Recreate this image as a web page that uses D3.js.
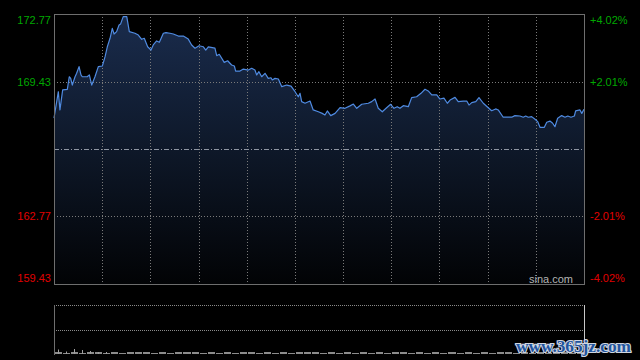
<!DOCTYPE html>
<html lang="zh">
  <head>
    <meta charset="utf-8">
    <title>sina intraday</title>
    <style>
      html, body { margin: 0; padding: 0; background: #000; }
      svg { display: block; }
      text { font-family: "Liberation Sans", Arial, sans-serif; }
    </style>
  </head>
  <body>
    <svg class="chart"></svg>
    <script src="https://d3js.org/d3.v7.min.js"></script>
    <script>
      // HK session: 9:30-12:00, 13:00-16:00 -> 330 trading minutes
      const prevClose = 166.10;
      const priceRange = [159.43, 172.77];
      const leftLabels = ["172.77", "169.43", "162.77", "159.43"];
      const leftValues = [172.77, 169.43, 162.77, 159.43];
      const rightLabels = ["+4.02%", "+2.01%", "-2.01%", "-4.02%"];

      const minutes = [0,2.7,3.7,5.4,8.3,9.5,10.4,11.4,13.1,14.1,
        15.6,16.8,17.6,20.7,22,23.5,25.5,27.6,30.1,31.8,
        33.2,34.9,36.3,37.4,39,40.5,41.5,43.1,45.3,46.9,
        50.4,52.5,54.6,56.2,58.3,60.4,61.8,63.9,65.6,68.1,
        69.7,72.2,74.3,77.4,80.5,83.6,85.7,87.8,90.3,93,
        94.5,96.1,100.2,101.3,102.9,106,108.1,110.6,112.3,113.1,
        115.8,117.9,121,123.1,125.1,126.2,127.6,129.3,131.4,133.4,
        135.1,135.9,137.6,139.7,141.8,144.9,147.6,150.1,152.1,153.2,
        154.2,156.3,159.4,161.4,164.6,167,168.7,170.2,172.3,175,
        178.1,181.2,184.3,186.4,188.5,191.6,195.7,197.8,199.9,201.9,
        204.4,207.1,209.6,211.7,213.7,215.4,217.5,220.6,222.7,225.8,
        228.5,231,233,235.2,238.3,240.3,242.8,244.9,246.6,249.7,
        251.7,254.8,257,258.4,260.1,262.6,264.6,267.3,270.4,272.5,
        275,276.6,279.7,285,287,290.1,292.2,293.7,295.3,297.4,
        299.5,301.2,302.6,305.3,306.8,308.8,310.5,311.9,313.6,316.1,
        318.2,319.9,321.9,324,324.8,327.5,328.6,330];

      const prices = [167.63,168.93,168.03,169.02,169.05,169.67,169.59,169.26,169.67,169.84,
        170.17,169.76,169.67,169.67,169.76,169.26,169.67,170.17,170.2,170.66,
        171.15,171.57,172.06,171.78,171.9,172.23,172.28,172.64,172.64,171.9,
        171.82,171.73,171.52,171.57,171.15,170.99,171.24,171.44,171.37,171.82,
        171.85,171.82,171.78,171.68,171.68,171.53,171.24,171.08,171.2,171.15,
        170.99,171.15,171.08,170.71,170.78,170.38,170.46,170.25,170.2,169.95,
        169.95,170.05,170,170.09,170,169.76,169.92,169.67,169.84,169.59,
        169.62,169.51,169.59,169.56,169.18,169.26,169.21,168.93,168.68,168.85,
        168.44,168.36,168.47,168.03,167.94,167.86,167.78,167.98,167.75,167.86,
        168.14,168.11,168.23,168.32,168.11,168.31,168.36,168.44,168.57,168.11,
        167.94,168.14,168.31,168.11,168.19,168.11,168.24,168.19,168.64,168.68,
        168.85,169.05,168.97,168.77,168.77,168.57,168.61,168.36,168.52,168.65,
        168.44,168.47,168.47,168.27,168.39,168.44,168.64,168.36,168.14,167.99,
        168.08,168.03,167.67,167.67,167.75,167.73,167.67,167.73,167.67,167.7,
        167.57,167.45,167.17,167.17,167.42,167.48,167.37,167.2,167.62,167.75,
        167.67,167.73,167.67,167.73,167.98,168.03,167.86,168.06];

      // volume per 5 minute bucket (66 buckets)
      const volumes = [2,1,2,1,2,2,1,2,1,9,5,2,1,2,1,2,10,2,1,2,1,2,
        1,2,2,1,2,1,2,1,8,2,6,1,2,1,2,1,2,1,2,1,2,2,
        1,2,1,2,1,2,1,2,1,2,1,4,2,1,2,1,2,1,4,2,1,2];

      const W = 640, H = 360;
      const L = 54, R = 584, T = 14, B = 284;
      const vT = 305, vB = 355;

      const svg = d3.select(".chart").attr("width", W).attr("height", H);
      svg.append("rect").attr("width", W).attr("height", H).attr("fill", "#000");

      const x = d3.scaleLinear().domain([0, 330]).range([L, R]);
      const y = d3.scaleLinear().domain(priceRange).range([B, T]);
      const yv = d3.scaleLinear().domain([0, 100]).range([vB, vT]);
      const px = v => Math.round(v) + 0.5;

      const grad = svg.append("defs").append("linearGradient")
        .attr("id", "fillGrad").attr("gradientUnits", "userSpaceOnUse")
        .attr("x1", 0).attr("y1", T).attr("x2", 0).attr("y2", B);
      grad.append("stop").attr("offset", 0).attr("stop-color", "#1a2c4d");
      grad.append("stop").attr("offset", 0.5).attr("stop-color", "#0e1829");
      grad.append("stop").attr("offset", 1).attr("stop-color", "#020305");

      const pts = minutes.map((m, i) => [m, prices[i]]);

      svg.append("path").datum(pts)
        .attr("d", d3.area().x(d => x(d[0])).y0(B).y1(d => y(d[1])))
        .attr("fill", "url(#fillGrad)");

      // grid
      const grid = svg.append("g");
      grid.selectAll("line.v").data(d3.range(30, 330, 30)).enter().append("line")
        .attr("x1", d => px(x(d))).attr("x2", d => px(x(d)))
        .attr("y1", T).attr("y2", B)
        .attr("stroke", "#7a7a7a").attr("stroke-dasharray", "1,2");
      grid.selectAll("line.h").data([169.43, 162.77]).enter().append("line")
        .attr("x1", L).attr("x2", R)
        .attr("y1", d => px(y(d))).attr("y2", d => px(y(d)))
        .attr("stroke", "#7a7a7a").attr("stroke-dasharray", "1,2");
      grid.append("line")
        .attr("x1", L).attr("x2", R)
        .attr("y1", px(y(prevClose))).attr("y2", px(y(prevClose)))
        .attr("stroke", "#8f96a3").attr("stroke-dasharray", "5,2,1,2");

      svg.append("path").datum(pts)
        .attr("d", d3.line().x(d => x(d[0])).y(d => y(d[1])))
        .attr("fill", "none").attr("stroke", "#4f8ae0").attr("stroke-width", 1.2)
        .attr("stroke-linejoin", "round");

      svg.append("rect")
        .attr("x", L + 0.5).attr("y", T + 0.5)
        .attr("width", R - L).attr("height", B - T)
        .attr("fill", "none").attr("stroke", "#6e6e6e");

      // labels
      const labelY = (i) => {
        const yy = y(leftValues[i]);
        if (i === 0) return yy + 6;
        if (i === 3) return yy - 6;
        return yy;
      };
      svg.selectAll("text.left").data(leftLabels).enter().append("text")
        .attr("x", 51)
        .attr("y", (d, i) => labelY(i))
        .attr("dy", "0.36em")
        .attr("text-anchor", "end")
        .attr("fill", (d, i) => i < 2 ? "#00a800" : "#e00000")
        .style("font-size", "11px")
        .text(d => d);

      svg.selectAll("text.right").data(rightLabels).enter().append("text")
        .attr("x", 590)
        .attr("y", (d, i) => labelY(i))
        .attr("dy", "0.36em")
        .attr("fill", (d, i) => i < 2 ? "#00a800" : "#e00000")
        .style("font-size", "11px")
        .text(d => d);

      svg.append("text").attr("x", 573).attr("y", 279).attr("dy", "0.36em")
        .attr("text-anchor", "end").attr("fill", "#b4b4b4")
        .style("font-size", "11px").text("sina.com");

      // volume panel
      const vol = svg.append("g");
      vol.selectAll("line.vh").data([vT, (vT + vB) / 2]).enter().append("line")
        .attr("x1", L).attr("x2", R)
        .attr("y1", d => px(d)).attr("y2", d => px(d))
        .attr("stroke", "#8a8a8a").attr("stroke-dasharray", "1,1");
      vol.append("line").attr("x1", L + 0.5).attr("x2", L + 0.5)
        .attr("y1", vT).attr("y2", vB).attr("stroke", "#6e6e6e");
      vol.append("line").attr("x1", R + 0.5).attr("x2", R + 0.5)
        .attr("y1", vT).attr("y2", vB).attr("stroke", "#c8c8c8");
      // base of each bucket
      vol.selectAll("rect.base").data(volumes).enter().append("rect")
        .attr("x", (d, i) => Math.round(x(i * 5)) + 1)
        .attr("width", (d, i) => Math.round(x((i + 1) * 5)) - Math.round(x(i * 5)) - 1)
        .attr("y", d => vB - 2 - (d > 1 ? 1 : 0))
        .attr("height", d => d > 1 ? 2 : 1)
        .attr("fill", "#8c8c8c");
      // thin spike for the bigger buckets
      vol.selectAll("line.spike").data(volumes).enter().append("line")
        .filter(d => d > 3)
        .attr("x1", (d, i) => px(x(i * 5 + 2.5))).attr("x2", (d, i) => px(x(i * 5 + 2.5)))
        .attr("y1", vB - 1).attr("y2", d => yv(d) - 1)
        .attr("stroke", "#a0a0a0");

      // watermark
      svg.append("text").attr("x", 516).attr("y", 352)
        .attr("textLength", 115).attr("lengthAdjust", "spacingAndGlyphs")
        .attr("fill", "#21549f").attr("stroke", "#cfd6e0").attr("stroke-width", 2.2)
        .attr("paint-order", "stroke")
        .style("font-family", "'Liberation Serif', serif").style("font-weight", "bold")
        .style("font-size", "17px")
        .text("www.365jz.com");
    </script>
  </body>
</html>
